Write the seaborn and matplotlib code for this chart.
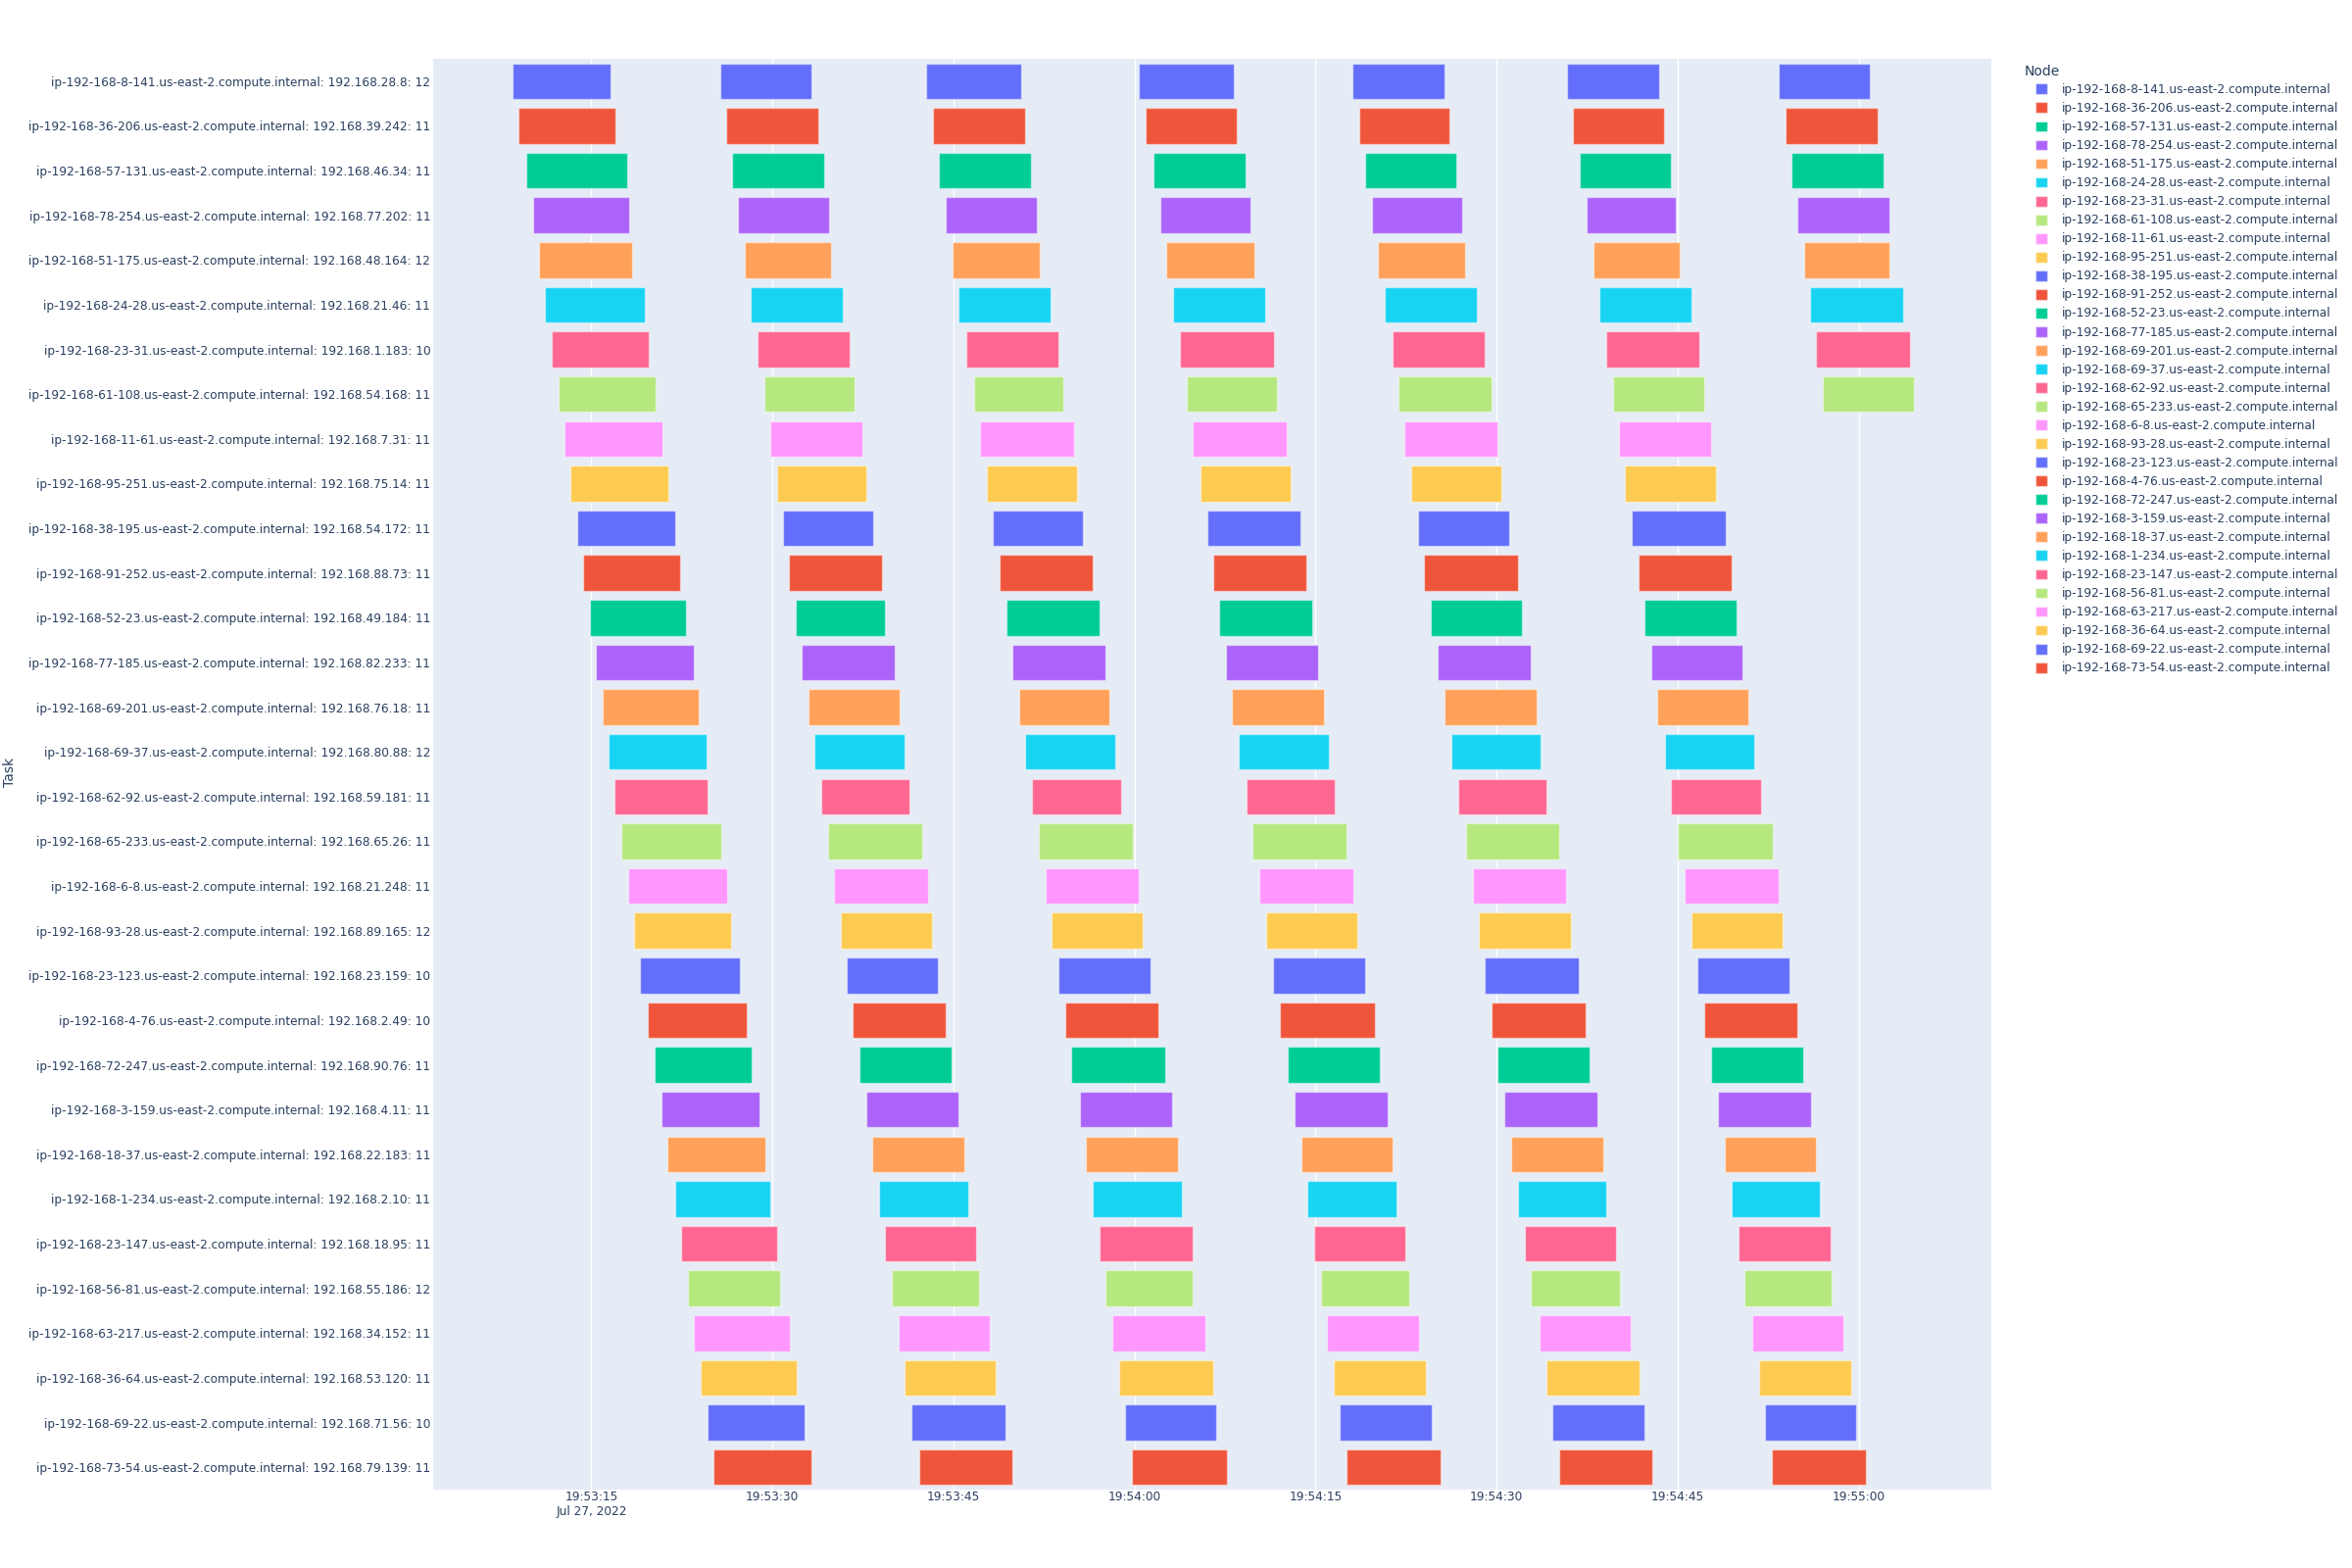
import matplotlib
matplotlib.use("Agg")
import matplotlib.pyplot as plt
import matplotlib.dates as mdates
from matplotlib.patches import Patch
import pandas as pd
import seaborn as sns

# nodes / tasks, top to bottom
nodes = [
    "ip-192-168-8-141", "ip-192-168-36-206", "ip-192-168-57-131", "ip-192-168-78-254",
    "ip-192-168-51-175", "ip-192-168-24-28", "ip-192-168-23-31", "ip-192-168-61-108",
    "ip-192-168-11-61", "ip-192-168-95-251", "ip-192-168-38-195", "ip-192-168-91-252",
    "ip-192-168-52-23", "ip-192-168-77-185", "ip-192-168-69-201", "ip-192-168-69-37",
    "ip-192-168-62-92", "ip-192-168-65-233", "ip-192-168-6-8", "ip-192-168-93-28",
    "ip-192-168-23-123", "ip-192-168-4-76", "ip-192-168-72-247", "ip-192-168-3-159",
    "ip-192-168-18-37", "ip-192-168-1-234", "ip-192-168-23-147", "ip-192-168-56-81",
    "ip-192-168-63-217", "ip-192-168-36-64", "ip-192-168-69-22", "ip-192-168-73-54",
]
node_suffix = ".us-east-2.compute.internal"
pod_ips = [
    "192.168.28.8", "192.168.39.242", "192.168.46.34", "192.168.77.202",
    "192.168.48.164", "192.168.21.46", "192.168.1.183", "192.168.54.168",
    "192.168.7.31", "192.168.75.14", "192.168.54.172", "192.168.88.73",
    "192.168.49.184", "192.168.82.233", "192.168.76.18", "192.168.80.88",
    "192.168.59.181", "192.168.65.26", "192.168.21.248", "192.168.89.165",
    "192.168.23.159", "192.168.2.49", "192.168.90.76", "192.168.4.11",
    "192.168.22.183", "192.168.2.10", "192.168.18.95", "192.168.55.186",
    "192.168.34.152", "192.168.53.120", "192.168.71.56", "192.168.79.139",
]
counts = [12, 11, 11, 11, 12, 11, 10, 11, 11, 11, 11, 11, 11, 11, 11, 12,
          11, 11, 11, 12, 10, 10, 11, 11, 11, 11, 11, 12, 11, 11, 10, 11]

# seconds after 19:53:15 (Jul 27, 2022), one list per wave, rows top to bottom
base_time = "2022-07-27 19:53:15"
wave1_start = [-6.55, -6.01, -5.39, -4.85, -4.31, -3.81, -3.27, -2.74, -2.24, -1.74, -1.20, -0.66,
               -0.12, 0.37, 0.91, 1.45, 1.95, 2.49, 3.03, 3.56, 4.02, 4.72, 5.26, 5.80,
               6.34, 6.92, 7.46, 8.00, 8.50, 9.03, 9.61, 10.11]
wave1_end = [1.62, 2.00, 2.98, 3.11, 3.40, 4.43, 4.77, 5.30, 5.93, 6.42, 6.92, 7.38,
             7.83, 8.50, 8.87, 9.53, 9.66, 10.77, 11.23, 11.60, 12.31, 12.85, 13.30, 13.97,
             14.46, 14.84, 15.42, 15.62, 16.49, 16.99, 17.70, 18.23]
wave2_start = [10.65, 11.19, 11.69, 12.18, 12.68, 13.18, 13.76, 14.34, 14.84, 15.38, 15.91, 16.37,
               16.91, 17.45, 17.99, 18.48, 19.06, 19.60, 20.14, 20.64, 21.14, 21.63, 22.21, 22.75,
               23.29, 23.83, 24.33, 24.87, 25.45, 25.98, 26.56, 27.14]
wave2_end = [18.28, 18.77, 19.31, 19.69, 19.89, 20.80, 21.38, 21.84, 22.46, 22.79, 23.33, 24.12,
             24.37, 25.12, 25.53, 25.94, 26.36, 27.43, 27.93, 28.26, 28.72, 29.34, 29.84, 30.42,
             30.92, 31.21, 31.91, 32.16, 33.03, 33.53, 34.31, 34.89]
wave3_start = [27.77, 28.31, 28.80, 29.38, 29.92, 30.46, 31.04, 31.70, 32.20, 32.74, 33.28, 33.86,
               34.40, 34.89, 35.43, 35.97, 36.47, 37.09, 37.63, 38.17, 38.67, 39.25, 39.78, 40.45,
               40.94, 41.52, 42.11, 42.64, 43.18, 43.76, 44.26, 44.80]
wave3_end = [35.60, 35.93, 36.43, 36.88, 37.13, 38.04, 38.71, 39.12, 39.99, 40.24, 40.74, 41.53,
             42.11, 42.56, 42.93, 43.39, 43.89, 44.84, 45.34, 45.71, 46.33, 47.00, 47.53, 48.16,
             48.61, 48.90, 49.81, 49.85, 50.89, 51.51, 51.80, 52.63]
wave4_start = [45.34, 45.92, 46.54, 47.12, 47.66, 48.20, 48.74, 49.32, 49.81, 50.44, 51.02, 51.55,
               52.01, 52.59, 53.09, 53.67, 54.29, 54.79, 55.37, 55.95, 56.49, 57.02, 57.73, 58.27,
               58.85, 59.35, 59.93, 60.46, 60.96, 61.50, 62.00, 62.54]
wave4_end = [53.21, 53.50, 54.25, 54.62, 54.91, 55.86, 56.57, 56.82, 57.65, 57.98, 58.77, 59.22,
             59.76, 60.22, 60.71, 61.09, 61.62, 62.58, 63.12, 63.49, 64.15, 64.94, 65.31, 66.02,
             66.43, 66.72, 67.47, 67.76, 68.59, 69.17, 69.62, 70.33]
wave5_start = [63.03, 63.61, 64.15, 64.69, 65.19, 65.77, 66.35, 66.89, 67.39, 67.92, 68.50, 69.00,
               69.58, 70.12, 70.70, 71.24, 71.86, 72.52, 73.06, 73.56, 74.06, 74.60, 75.09, 75.67,
               76.25, 76.79, 77.33, 77.87, 78.53, 79.11, 79.61, 80.23]
wave5_end = [70.66, 71.07, 71.69, 72.15, 72.36, 73.35, 74.06, 74.55, 75.09, 75.43, 76.05, 76.75,
             77.08, 77.83, 78.33, 78.66, 79.15, 80.23, 80.77, 81.19, 81.81, 82.39, 82.68, 83.38,
             83.88, 84.13, 84.91, 85.21, 86.12, 86.82, 87.23, 87.90]
wave6_start = [80.81, 81.35, 81.93, 82.43, 83.01, 83.55, 84.09, 84.63, 85.12, 85.66, 86.24, 86.78,
               87.28, 87.82, 88.35, 88.94, 89.47, 90.01, 90.59, 91.13, 91.63, 92.21, 92.79, 93.37,
               93.91, 94.45, 95.03, 95.52, 96.15, 96.73, 97.26, 97.80]
wave6_end = [88.48, 88.89, 89.43, 89.89, 90.14, 91.13, 91.80, 92.17, 92.75, 93.20, 93.99, 94.49,
             94.86, 95.40, 95.86, 96.35, 96.89, 97.89, 98.38, 98.72, 99.30, 99.92, 100.41, 101.08,
             101.49, 101.78, 102.65, 102.78, 103.77, 104.39, 104.80, 105.59]
wave7_start = [98.38, 98.92, 99.42, 99.92, 100.46, 100.95, 101.49, 102.03]
wave7_end = [105.93, 106.59, 107.05, 107.58, 107.54, 108.66, 109.24, 109.57]

tick_labels = ["19:53:15\nJul 27, 2022", "19:53:30", "19:53:45", "19:54:00",
               "19:54:15", "19:54:30", "19:54:45", "19:55:00"]

# plotly default qualitative colours
plotly_colors = ["#636EFA", "#EF553B", "#00CC96", "#AB63FA", "#FFA15A",
                 "#19D3F3", "#FF6692", "#B6E880", "#FF97FF", "#FECB52"]
text_color = "#2a3f5f"

sns.set_theme(style="darkgrid", rc={
    "axes.facecolor": "#E5ECF6",
    "grid.color": "white",
    "grid.linewidth": 1.0,
    "axes.edgecolor": "#E5ECF6",
})
plt.rcParams["font.family"] = ["DejaVu Sans"]

palette = sns.color_palette(plotly_colors, n_colors=len(nodes))
tasks = [f"{n}{node_suffix}: {ip}: {c}" for n, ip, c in zip(nodes, pod_ips, counts)]

t0 = mdates.date2num(pd.Timestamp(base_time))
sec = 1.0 / 86400.0

fig = plt.figure(figsize=(24, 16), dpi=100)
ax = fig.add_axes([442 / 2400, 1 - 1520 / 1600, 1590 / 2400, 1460 / 1600])

waves = [(wave1_start, wave1_end), (wave2_start, wave2_end), (wave3_start, wave3_end),
         (wave4_start, wave4_end), (wave5_start, wave5_end), (wave6_start, wave6_end),
         (wave7_start, wave7_end)]
for starts, ends in waves:
    rows = list(range(len(starts)))
    left = [t0 + s * sec for s in starts]
    width = [(e - s) * sec for s, e in zip(starts, ends)]
    ax.barh(rows, width, left=left, height=0.8, color=[palette[r] for r in rows],
            edgecolor=(1, 1, 1, 0.45), linewidth=1.0, zorder=3)

ax.set_ylim(len(nodes) - 0.5, -0.5)
ax.set_yticks(range(len(tasks)))
ax.set_yticklabels(tasks)
ax.set_xlim(t0 - 13.1 * sec, t0 + 116.0 * sec)
ax.set_xticks([t0 + 15 * k * sec for k in range(len(tick_labels))])
ax.set_xticklabels(tick_labels)
ax.grid(axis="y", visible=False)
ax.grid(axis="x", visible=True, zorder=0)
ax.tick_params(axis="y", length=0, pad=2, labelsize=8.7, labelcolor=text_color)
ax.tick_params(axis="x", length=0, pad=1, labelsize=8.7, labelcolor=text_color)
for lab in ax.get_xticklabels():
    lab.set_linespacing(1.15)
ax.set_ylabel("")
ax.set_xlabel("")
for sp in ax.spines.values():
    sp.set_visible(False)

fig.text(10 / 2400, 1 - 788 / 1600, "Task", rotation=90, ha="center", va="center",
         fontsize=10, color=text_color)

# legend, one entry per node
fig.text(2066 / 2400, 1 - 73 / 1600, "Node", ha="left", va="center",
         fontsize=10, color=text_color)
handles = [Patch(facecolor=palette[i], edgecolor=(1, 1, 1, 0.45)) for i in range(len(nodes))]
leg = fig.legend(handles, [n + node_suffix for n in nodes], loc="upper left",
                 bbox_to_anchor=(2077 / 2400, 1 - 85 / 1600), frameon=False,
                 fontsize=8.7, handlelength=1.0, handleheight=1.0, handletextpad=1.25,
                 labelspacing=0.5, borderpad=0, borderaxespad=0)
for t in leg.get_texts():
    t.set_color(text_color)

fig.savefig("out.png", dpi=100, facecolor="white")
